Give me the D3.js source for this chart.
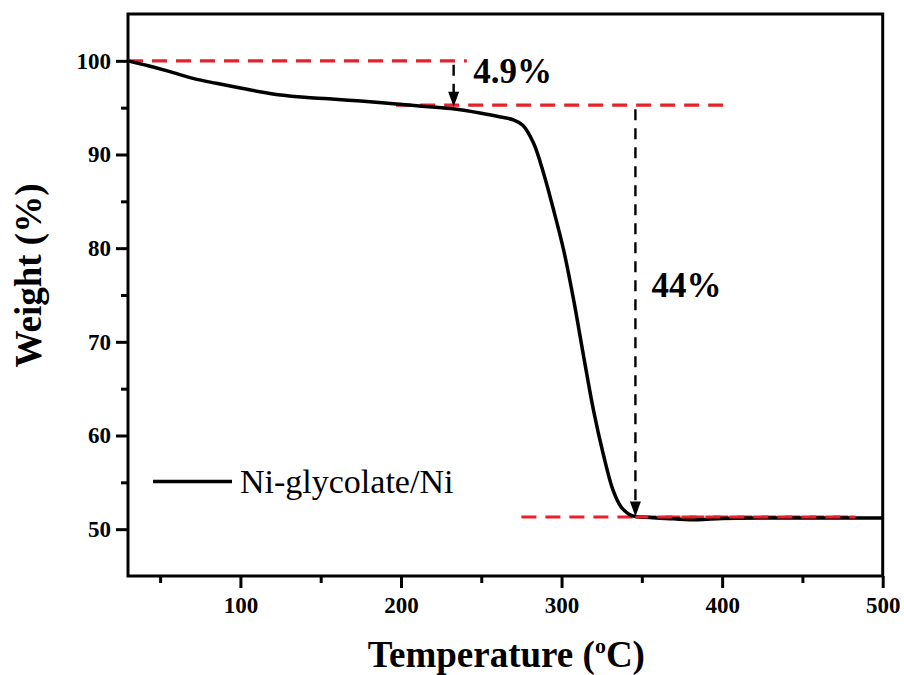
<!DOCTYPE html>
<html>
<head>
<meta charset="utf-8">
<script src="https://cdn.jsdelivr.net/npm/d3@7"></script>
<style>
  html, body { margin: 0; padding: 0; background: #fff; }
  svg { display: block; }
  text { font-family: "Liberation Serif", "Times New Roman", serif; }
</style>
</head>
<body>
<svg id="chart" width="904" height="675"></svg>
<script>
// ---- Data ----
const temperature = [30, 42, 55, 71, 85, 100, 112, 125, 140, 155, 175, 190, 210, 231, 250, 262, 270, 276, 282.6, 288.8, 295, 301.3, 307.5, 313.8, 320, 326, 332, 337, 342, 346, 355, 370, 385, 400, 430, 460, 500];
const weight      = [100, 99.5, 98.9, 98.1, 97.6, 97.1, 96.7, 96.35, 96.1, 95.95, 95.7, 95.5, 95.2, 94.9, 94.4, 94.0, 93.7, 93.1, 91.2, 88.0, 84.1, 79.8, 74.5, 68.4, 62.6, 58.0, 54.2, 52.4, 51.6, 51.35, 51.25, 51.1, 51.0, 51.15, 51.2, 51.2, 51.2];
const seriesName = "Ni-glycolate/Ni";

const xTicks = [100, 200, 300, 400, 500];
const xMinorTicks = [50, 150, 250, 350, 450];
const yTicks = [50, 60, 70, 80, 90, 100];
const yMinorTicks = [55, 65, 75, 85, 95];

// reference (red dashed) lines: level, from, to
const refLevels = [100, 95.27, 51.3];
const refFrom   = [30, 197, 275];
const refTo     = [241, 405, 483];

// loss arrows: x position, start, end
const arrowX     = [232.8, 346];
const arrowStart = [100, 95.27];
const arrowEnd   = [95.1, 51.35];
const lossLabels = ["4.9%", "44%"];
const labelT     = [245, 356];
const labelW     = [97.6, 74.8];

// ---- Layout ----
const svg = d3.select("#chart");
const pLeft = 128, pTop = 14, pRight = 882.7, pBottom = 576;
const x = d3.scaleLinear().domain([30, 500]).range([pLeft, pRight]);
const y = d3.scaleLinear().domain([45, 105]).range([pBottom, pTop]);

const black = "#000";
const red = "#e8202a";

// Frame
svg.append("rect")
  .attr("x", pLeft).attr("y", pTop)
  .attr("width", pRight - pLeft).attr("height", pBottom - pTop)
  .attr("fill", "none").attr("stroke", black).attr("stroke-width", 3);

// Axes
const xAxis = svg.append("g").attr("transform", `translate(0,${pBottom})`)
  .call(d3.axisBottom(x).tickValues(xTicks).tickSize(12).tickPadding(9).tickFormat(d3.format("d")));
const xMinor = svg.append("g").attr("transform", `translate(0,${pBottom})`)
  .call(d3.axisBottom(x).tickValues(xMinorTicks).tickSize(7).tickFormat(""));
const yAxis = svg.append("g").attr("transform", `translate(${pLeft},0)`)
  .call(d3.axisLeft(y).tickValues(yTicks).tickSize(12).tickPadding(5).tickFormat(d3.format("d")));
const yMinor = svg.append("g").attr("transform", `translate(${pLeft},0)`)
  .call(d3.axisLeft(y).tickValues(yMinorTicks).tickSize(7).tickFormat(""));

[xAxis, xMinor, yAxis, yMinor].forEach(g => {
  g.select(".domain").remove();
  g.attr("font-size", 23).attr("font-family", '"Liberation Serif", "Times New Roman", serif');
  g.selectAll(".tick line").attr("stroke", black).attr("stroke-width", 3);
  g.selectAll(".tick text")
    .attr("fill", black)
    .style("font-family", '"Liberation Serif", "Times New Roman", serif')
    .style("font-weight", "bold")
    .style("font-size", "23px");
});

// Red dashed reference lines
svg.append("g").selectAll("line").data(refLevels).join("line")
  .attr("x1", (d, i) => x(refFrom[i])).attr("x2", (d, i) => x(refTo[i]))
  .attr("y1", d => y(d)).attr("y2", d => y(d))
  .attr("stroke", red).attr("stroke-width", 3.2)
  .attr("stroke-dasharray", "15 9");

// Curve
const pts = temperature.map((t, i) => [t, weight[i]]);
svg.append("path")
  .datum(pts)
  .attr("fill", "none")
  .attr("stroke", black)
  .attr("stroke-width", 3.5)
  .attr("stroke-linejoin", "round")
  .attr("d", d3.line().x(d => x(d[0])).y(d => y(d[1])).curve(d3.curveCatmullRom.alpha(0.5)));

// Red dashes over the curve on the plateau (as in reference)
svg.append("line")
  .attr("x1", x(346)).attr("x2", x(refTo[2]))
  .attr("y1", y(refLevels[2])).attr("y2", y(refLevels[2]))
  .attr("stroke", red).attr("stroke-width", 3.2)
  .attr("stroke-dasharray", "15 9").attr("stroke-dashoffset", 2);

// Black dashed arrows
const arrows = svg.append("g");
arrowX.forEach((ax, i) => {
  const xs = x(ax), y0 = y(arrowStart[i]) + 4, y1 = y(arrowEnd[i]);
  arrows.append("line")
    .attr("x1", xs).attr("x2", xs)
    .attr("y1", y0).attr("y2", y1 - 12)
    .attr("stroke", black).attr("stroke-width", 2.4)
    .attr("stroke-dasharray", "11 8");
  arrows.append("path")
    .attr("d", `M${xs - 5.5},${y1 - 15} L${xs + 5.5},${y1 - 15} L${xs},${y1} Z`)
    .attr("fill", black);
});

// Loss labels
svg.append("g").selectAll("text").data(lossLabels).join("text")
  .attr("x", (d, i) => x(labelT[i])).attr("y", (d, i) => y(labelW[i]))
  .attr("font-size", 35).attr("font-weight", "bold").attr("fill", black)
  .text(d => d);

// Legend
svg.append("line")
  .attr("x1", 153).attr("x2", 232).attr("y1", 481.5).attr("y2", 481.5)
  .attr("stroke", black).attr("stroke-width", 3.5);
svg.append("text")
  .attr("x", 240).attr("y", 493)
  .attr("font-size", 34).attr("fill", black)
  .text(seriesName);

// Axis titles
const xt = svg.append("text")
  .attr("x", (pLeft + pRight) / 2 + 1).attr("y", 667)
  .attr("text-anchor", "middle")
  .attr("font-size", 37).attr("font-weight", "bold").attr("fill", black);
xt.append("tspan").text("Temperature (");
xt.append("tspan").attr("font-size", 22).attr("dy", -14).text("o");
xt.append("tspan").attr("dy", 14).text("C)");

svg.append("text")
  .attr("transform", `translate(41,${(181 + 370) / 2}) rotate(-90)`)
  .attr("text-anchor", "middle")
  .attr("font-size", 37).attr("font-weight", "bold").attr("fill", black)
  .text("Weight (%)");
</script>
</body>
</html>
